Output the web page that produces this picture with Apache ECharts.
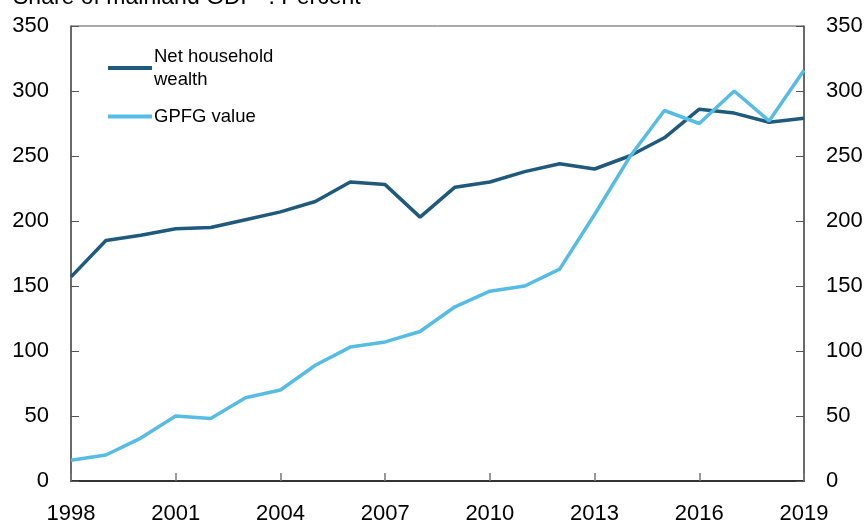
<!DOCTYPE html>
<html>
<head>
<meta charset="utf-8">
<script src="https://cdn.jsdelivr.net/npm/echarts@6/dist/echarts.min.js"></script>
<style>
  html, body { margin: 0; padding: 0; background: #fff; }
  #chart { width: 864px; height: 523px; }
</style>
</head>
<body>
<div id="chart"></div>
<script>
// years on the x axis
var years = ['1998','1999','2000','2001','2002','2003','2004','2005','2006','2007','2008',
             '2009','2010','2011','2012','2013','2014','2015','2016','2017','2018','2019'];
// share of mainland GDP, percent
var householdWealth = [157, 185, 189, 194, 195, 201, 207, 215, 230, 228, 203,
                       226, 230, 238, 244, 240, 250, 264, 286, 283, 276, 279];
var gpfgValue = [16, 20, 33, 50, 48, 64, 70, 89, 103, 107, 115,
                 134, 146, 150, 163, 205, 249, 285, 275, 300, 277, 316];
var seriesNames = ['Net household\nwealth', 'GPFG value'];
var colors = ['#1f5a7d', '#57bce3'];

var font = 'Liberation Sans, Arial, sans-serif';

var yAxisCommon = {
    type: 'value',
    min: 0,
    max: 350,
    interval: 50,
    axisLine: { show: true, lineStyle: { color: '#555', width: 1.5 } },
    axisTick: { show: true, inside: true, length: 8, lineStyle: { color: '#555' } },
    splitLine: { show: false },
    axisLabel: { color: '#000', fontSize: 22, fontFamily: font, margin: 22 }
};

var option = {
    animation: false,
    color: colors,
    title: {
        text: 'Share of mainland GDP\u00b9\u207e. Percent',
        left: 8,
        top: -19,
        textStyle: { color: '#000', fontSize: 23, fontWeight: 'normal', fontFamily: font }
    },
    grid: {
        left: 71,
        right: 60,
        top: 26,
        bottom: 42,
        outerBoundsMode: 'none',
        containLabel: false,
        show: true,
        borderColor: '#555',
        borderWidth: 1
    },
    legend: {
        orient: 'vertical',
        left: 103,
        top: 40,
        itemGap: 14,
        itemWidth: 44,
        itemHeight: 4,
        icon: 'rect',
        textStyle: { color: '#000', fontSize: 18.5, fontFamily: font, lineHeight: 23, padding: [0, 0, 0, -3] },
        data: seriesNames
    },
    xAxis: {
        type: 'category',
        data: years,
        boundaryGap: false,
        axisLine: { lineStyle: { color: '#333', width: 2 } },
        axisTick: { inside: true, length: 8, interval: 2, lineStyle: { color: '#777', width: 1.5 } },
        axisLabel: { interval: 2, color: '#000', fontSize: 22, fontFamily: font, margin: 22 }
    },
    yAxis: [
        Object.assign({}, yAxisCommon, { position: 'left' }),
        Object.assign({}, yAxisCommon, { position: 'right' })
    ],
    series: [
        {
            name: seriesNames[0],
            type: 'line',
            data: householdWealth,
            showSymbol: false,
            lineStyle: { width: 3.5, color: colors[0] },
            z: 3
        },
        {
            name: seriesNames[1],
            type: 'line',
            data: gpfgValue,
            showSymbol: false,
            lineStyle: { width: 3.5, color: colors[1] },
            z: 4
        }
    ]
};

echarts.init(document.getElementById('chart')).setOption(option);
</script>
</body>
</html>
